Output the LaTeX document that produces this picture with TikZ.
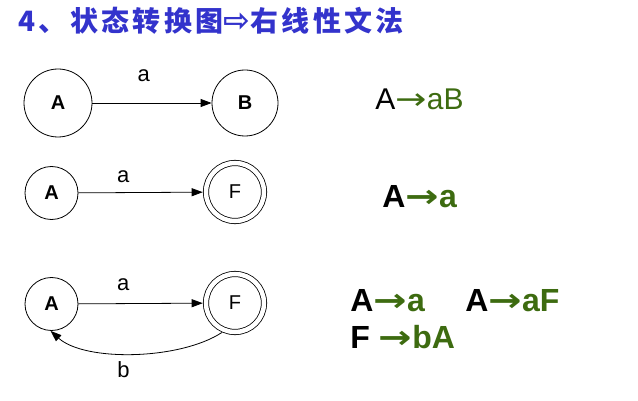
\documentclass[tikz,border=0pt]{standalone}
\usepackage{fontspec}
\setmainfont{Liberation Sans}
\newfontfamily\cjkfont{Noto Sans CJK SC}[LetterSpace=12]
\newfontfamily\symfont{DejaVu Sans}
\usetikzlibrary{arrows.meta}
\definecolor{titleblue}{RGB}{51,51,204}
\definecolor{rulegreen}{RGB}{61,107,16}
\newcommand{\gto}{\textcolor{rulegreen}{\scalebox{1.25}[1]{\symfont →}}}
\newcommand{\gtxt}[1]{\textcolor{rulegreen}{#1}}

\begin{document}
\begin{tikzpicture}[x=1pt,y=-1pt,line width=.8pt,
  state/.style={circle,draw,inner sep=0pt,font=\fontsize{20}{20}\selectfont},
  accept/.style={state,double,double distance=4.5pt,outer sep=3.3pt},
  lbl/.style={inner sep=2pt,font=\fontsize{22}{22}\selectfont},
  rulebig/.style={anchor=base west,inner sep=0pt,font=\fontsize{32}{32}\selectfont\bfseries},
  >={Triangle[length=11pt,width=8pt]}]
\useasboundingbox (0,0) rectangle (638,401);
\node[anchor=west,inner sep=0pt,text=titleblue,font=\cjkfont\bfseries\fontsize{28}{28}\selectfont] (title) at (18,21)
  {4、状态转换图{\symfont\bfseries\fontsize{32}{32}\selectfont ⇨}右线性文法};
% A -> aB
\node[state,minimum size=68pt] (a1) at (58,103) {\bfseries A};
\node[state,minimum size=66pt] (b1) at (245,103) {\bfseries B};
\draw[->] (a1) -- node[lbl,pos=.43,above=19pt] (la1) {a} (b1);
\node[anchor=base west,inner sep=0pt,font=\fontsize{30}{30}\selectfont] (r1) at (375,110) {A\gto\gtxt{aB}};
% A -> a
\node[state,minimum size=53pt] (a2) at (51.5,193) {\bfseries A};
\node[accept,minimum size=58pt] (f2) at (235,192) {F};
\draw[->] (a2) -- node[lbl,pos=.36,above=7pt] (la2) {a} (f2);
\node[rulebig] (r2) at (382,208) {A\gto\gtxt{a}};
% A -> a | aF, F -> bA
\node[state,minimum size=53pt] (a3) at (51.5,304) {\bfseries A};
\node[accept,minimum size=58pt] (f3) at (235,303) {F};
\draw[->] (a3) -- node[lbl,pos=.36,above=10pt] (la3) {a} (f3);
\draw[->] (f3.246) .. controls (180,360) and (85,362) .. node[lbl,pos=.55,below=6pt] (lb3) {b} (a3.268);
\node[rulebig] (r3) at (350,312) {A\gto\gtxt{a}};
\node[rulebig] (r4) at (465,312) {A\gto\gtxt{aF}};
\node[rulebig] (r5) at (350,348) {F \gto\gtxt{bA}};
\end{tikzpicture}
\end{document}
